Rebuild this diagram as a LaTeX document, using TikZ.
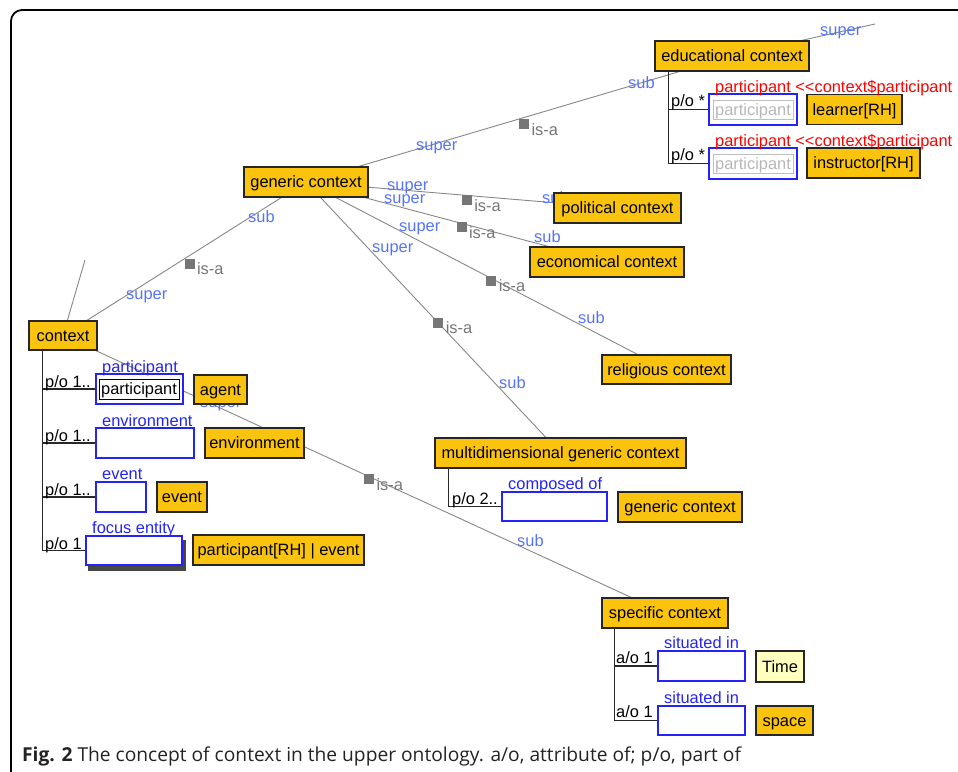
\documentclass[tikz,border=0pt]{standalone}
\usepackage{fontspec}
\setmainfont{Liberation Sans}
\newfontfamily\capfont{Open Sans}
\usetikzlibrary{calc,backgrounds}
\definecolor{boxor}{RGB}{250,196,14}
\definecolor{timey}{RGB}{255,255,192}
\definecolor{slotblue}{RGB}{35,35,245}
\definecolor{ssblue}{RGB}{85,115,250}
\definecolor{linegrey}{RGB}{135,135,135}
\definecolor{isagrey}{RGB}{118,118,118}
\definecolor{treeblk}{RGB}{40,40,40}
\definecolor{captxt}{RGB}{35,35,35}
\begin{document}
\begin{tikzpicture}[x=1pt,y=-1pt,
  every node/.style={font=\fontsize{16.4}{18}\selectfont, inner sep=0pt},
  cls/.style={draw=black!85, line width=1.4pt, fill=boxor, text height=13pt, text depth=2pt},
  slot/.style={draw=slotblue, line width=1.2pt, fill=white},
  inbox/.style={draw=black, line width=1pt, text height=13pt, text depth=2pt},
  ghost/.style={draw=black!25, line width=1pt, text=black!28, text height=13pt, text depth=2pt},
  rolelbl/.style={text=slotblue, anchor=base west},
  redlbl/.style={text=red, anchor=base west},
  card/.style={text=black, anchor=base west},
  sslbl/.style={text=ssblue, anchor=base west},
  isalink/.style={draw=linegrey, line width=0.9pt},
  isabox/.style={fill=isagrey, minimum size=10pt, anchor=north west},
  isatxt/.style={text=isagrey, anchor=west},
  tree/.style={draw=treeblk, line width=1.3pt},
]
\useasboundingbox (0,0) rectangle (958,771);
% frame
\draw[line width=1.8pt, rounded corners=11pt] (962,10) -- (11,10) -- (11,776);

% concept boxes
\node[cls, minimum width=154pt, minimum height=30pt] (edu) at (732,56) {educational context};
\node[cls, minimum width=124pt, minimum height=30pt] (gen) at (306,182) {generic context};
\node[cls, minimum width=127pt, minimum height=30pt] (pol) at (617.5,208) {political context};
\node[cls, minimum width=154pt, minimum height=30pt] (eco) at (607,262) {economical context};
\node[cls, minimum width=129pt, minimum height=29pt] (rel) at (666.5,369.5) {religious context};
\node[cls, minimum width=68pt, minimum height=29pt] (ctx) at (63,335.5) {context};
\node[cls, minimum width=53pt, minimum height=29pt] (agent) at (220.5,389.5) {agent};
\node[cls, minimum width=99pt, minimum height=30pt] (envb) at (254.5,443) {environment};
\node[cls, minimum width=50pt, minimum height=30pt] (evtb) at (182,497) {event};
\node[cls, minimum width=171pt, minimum height=30pt] (prh) at (278.5,550) {participant[RH] | event};
\node[cls, minimum width=251pt, minimum height=30pt] (multi) at (560.5,453) {multidimensional generic context};
\node[cls, minimum width=124pt, minimum height=30pt] (gen2) at (680,507) {generic context};
\node[cls, minimum width=126pt, minimum height=30pt] (spec) at (665,613) {specific context};
\node[cls, fill=timey, minimum width=48pt, minimum height=31pt] (time) at (780,666.5) {Time};
\node[cls, minimum width=57pt, minimum height=29pt] (space) at (784.5,720.5) {space};
\node[cls, minimum width=95pt, minimum height=30pt] (learner) at (854.5,109.5) {learner[RH]};
\node[cls, minimum width=113pt, minimum height=30pt] (instr) at (863.5,163) {instructor[RH]};

% slots
\node[slot, minimum width=87pt, minimum height=30pt] (spart) at (139.5,389) {};
\node[inbox, minimum width=80pt, minimum height=20pt] (ipart) at (139,389) {participant};
\node[slot, minimum width=98pt, minimum height=30pt] (senv) at (145,443) {};
\node[slot, minimum width=50pt, minimum height=30pt] (sevt) at (121,497) {};
\node[slot, minimum width=96pt, minimum height=29pt] (sfoc) at (134,550.5) {};
\node[slot, minimum width=105pt, minimum height=29pt] (scomp) at (554.5,506.5) {};
\node[slot, minimum width=87pt, minimum height=30pt] (ssit1) at (701.5,666) {};
\node[slot, minimum width=87pt, minimum height=29pt] (ssit2) at (701.5,720.5) {};
\node[slot, minimum width=88pt, minimum height=31pt] (sep1) at (753,109.5) {};
\node[ghost, minimum width=80pt, minimum height=19pt] (gep1) at (753,109.5) {participant};
\node[slot, minimum width=88pt, minimum height=31pt] (sep2) at (753,163.5) {};
\node[ghost, minimum width=80pt, minimum height=19pt] (gep2) at (753,163.5) {participant};

% slot role labels
\node[rolelbl] (lpart) at (102,372) {participant};
\node[rolelbl] (lenv) at (102,426) {environment};
\node[rolelbl] (levt) at (102,479) {event};
\node[rolelbl] (lfoc) at (92,533) {focus entity};
\node[rolelbl] (lcomp) at (508,489) {composed of};
\node[rolelbl] (lsit1) at (664,648) {situated in};
\node[rolelbl] (lsit2) at (664,703) {situated in};
\node[redlbl] (lred1) at (715,92) {participant {<}{<}context\$participant};
\node[redlbl] (lred2) at (715,146) {participant {<}{<}context\$participant};

% part-of / attribute-of trees
\coordinate (ctxt) at ($(ctx.south west)+(14,0)$);
\draw[tree] (ctxt) |- (sfoc.west);
\draw[tree] (ctxt) |- (spart.west);
\draw[tree] (ctxt) |- (senv.west);
\draw[tree] (ctxt) |- (sevt.west);
\coordinate (edut) at ($(edu.south west)+(14,0)$);
\draw[tree] (edut) |- (sep2.west);
\draw[tree] (edut) |- (sep1.west);
\coordinate (multit) at ($(multi.south west)+(14,0)$);
\draw[tree] (multit) |- (scomp.west);
\coordinate (spect) at ($(spec.south west)+(13,0)$);
\draw[tree] (spect) |- (ssit2.west);
\draw[tree] (spect) |- (ssit1.west);

\node[card] (c1) at (45,387) {p/o 1..};
\node[card] (c2) at (45,441) {p/o 1..};
\node[card] (c3) at (45,495) {p/o 1..};
\node[card] (c4) at (45,549) {p/o 1};
\node[card] (c5) at (671,106) {p/o *};
\node[card] (c6) at (671,160) {p/o *};
\node[card] (c7) at (452,504) {p/o 2..};
\node[card] (c8) at (616,663) {a/o 1};
\node[card] (c9) at (616,717) {a/o 1};

% caption
\node[anchor=base west, text=captxt, font=\capfont\fontsize{19.2}{21}\selectfont] (cap) at (22,761)
  {\textbf{Fig. 2} The concept of context in the upper ontology. a/o, attribute of; p/o, part of};

\begin{scope}[on background layer]
  \coordinate (ctxup) at (85,260);
  \coordinate (eduup) at (875,24);
  \draw[isalink] (ctx.center) -- (ctxup);
  \draw[isalink] (edu.center) -- (eduup);
  \draw[isalink] (ctx.center) -- (gen.center);
  \draw[isalink] (ctx.center) -- (spec.center);
  \draw[isalink] (gen.center) -- (edu.center);
  \draw[isalink] (gen.center) -- (pol.center);
  \draw[isalink] (gen.center) -- (eco.center);
  \draw[isalink] (gen.center) -- (rel.center);
  \draw[isalink] (gen.center) -- (multi.center);
  \fill[black!72] ($(sfoc.south west)+(3,5)$) rectangle ($(sfoc.north east)+(3,5)$);
  % super / sub labels
  \node[sslbl] (u1) at (416,150) {super};
  \node[sslbl] (b1) at (628,88) {sub};
  \node[sslbl] (u2) at (820,35) {super};
  \node[sslbl] (b2) at (248,222) {sub};
  \node[sslbl] (u3) at (126,299) {super};
  \node[sslbl] (u4) at (387,190) {super};
  \node[sslbl] (u5) at (384,203) {super};
  \node[sslbl] (u6) at (399,231) {super};
  \node[sslbl] (u7) at (372,252) {super};
  \node[sslbl] (b4) at (542,203) {sub};
  \node[sslbl] (b5) at (534,242) {sub};
  \node[sslbl] (b6) at (578,323) {sub};
  \node[sslbl] (b7) at (499,388) {sub};
  \node[sslbl] (u8) at (200,407) {super};
  \node[sslbl] (b8) at (517,546) {sub};
  % is-a markers
  \node[isabox] (q1) at ($(gen.center)!0.5!(edu.center)$) {};
  \node[isatxt] (t1) at ($(q1.east)+(2,5)$) {is-a};
  \node[isabox] (q2) at ($(ctx.center)!0.5!(gen.center)$) {};
  \node[isatxt] (t2) at ($(q2.east)+(2,5)$) {is-a};
  \node[isabox] (q3) at ($(gen.center)!0.5!(pol.center)$) {};
  \node[isatxt] (t3) at ($(q3.east)+(2,5)$) {is-a};
  \node[isabox] (q4) at ($(gen.center)!0.5!(eco.center)$) {};
  \node[isatxt] (t4) at ($(q4.east)+(2,5)$) {is-a};
  \node[isabox] (q5) at ($(gen.center)!0.5!(rel.center)$) {};
  \node[isatxt] (t5) at ($(q5.east)+(2,5)$) {is-a};
  \node[isabox] (q6) at ($(gen.center)!0.5!(multi.center)$) {};
  \node[isatxt] (t6) at ($(q6.east)+(2,5)$) {is-a};
  \node[isabox] (q7) at ($(ctx.center)!0.5!(spec.center)$) {};
  \node[isatxt] (t7) at ($(q7.east)+(2,5)$) {is-a};
\end{scope}
\end{tikzpicture}
\end{document}
